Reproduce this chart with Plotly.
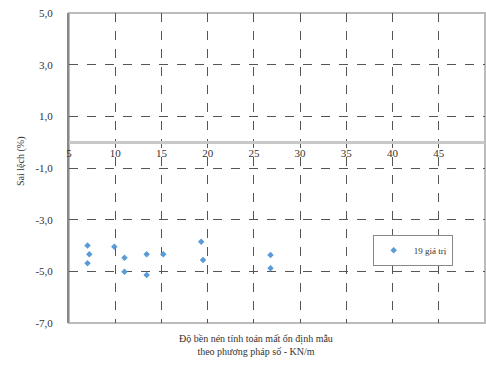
import plotly.graph_objects as go

# Data
x_vals = [7.0, 7.2, 7.0, 9.9, 11.0, 11.0, 13.4, 13.4, 15.2, 19.3, 19.5, 26.8, 26.8]
y_vals = [-4.0, -4.34, -4.69, -4.05, -4.47, -5.02, -4.34, -5.14, -4.34, -3.85, -4.56, -4.37, -4.88]
series_name = "19 giá trị"

y_tickvals = [5, 3, 1, -1, -3, -5, -7]
y_ticktext = ["5,0", "3,0", "1,0", "-1,0", "-3,0", "-5,0", "-7,0"]
x_tickvals = [5, 10, 15, 20, 25, 30, 35, 40, 45, 50]
x_ticktext = ["5", "10", "15", "20", "25", "30", "35", "40", "45", "50"]

x_title = "Độ bền nén tính toán mất ổn định mẫu<br>theo phương pháp số - KN/m"
y_title = "Sai lệch (%)"

FONT = "Liberation Serif"

fig = go.Figure()
fig.add_trace(go.Scatter(
    x=x_vals, y=y_vals, mode="markers", name=series_name,
    marker=dict(symbol="diamond", size=5, color="#5b9bd5"),
))

fig.update_layout(
    width=486, height=365,
    margin=dict(l=69, r=1, t=13, b=42),
    plot_bgcolor="white", paper_bgcolor="white",
    font=dict(family=FONT, size=10, color="#333"),
    showlegend=True,
    legend=dict(x=0.73, y=0.285, xanchor="left", yanchor="top",
                bordercolor="#888", borderwidth=1, bgcolor="white",
                font=dict(family=FONT, size=9, color="#333"),
                itemwidth=30),
    xaxis=dict(range=[5, 50], anchor="free", position=7/12,
               tickvals=x_tickvals, ticktext=x_ticktext,
               showgrid=True, gridcolor="#555", griddash="dash", gridwidth=1,
               zeroline=False, showline=True, linecolor="#c8c8c8", linewidth=3,
               ticks="", tickfont=dict(family=FONT, size=11, color="#333")),
    yaxis=dict(range=[-7, 5], tickvals=y_tickvals, ticktext=y_ticktext,
               showgrid=True, gridcolor="#555", griddash="dash", gridwidth=1,
               zeroline=False, showline=True, linecolor="#888", linewidth=2,
               ticks="", ticklabelstandoff=12,
               tickfont=dict(family=FONT, size=11, color="#333")),
)

# plot-area frame
fig.add_shape(type="rect", xref="paper", yref="paper", x0=0, y0=0, x1=1, y1=1,
              line=dict(color="#bbb", width=2), layer="below")

fig.add_annotation(text=x_title, xref="paper", yref="paper", x=0.45, y=-0.025,
                   xanchor="center", yanchor="top", showarrow=False,
                   font=dict(family=FONT, size=10, color="#333"))
fig.add_annotation(text=y_title, xref="paper", yref="paper", x=-0.115, y=0.52,
                   xanchor="center", yanchor="middle", showarrow=False, textangle=-90,
                   font=dict(family=FONT, size=10, color="#333"))

fig.write_html("out.html")
